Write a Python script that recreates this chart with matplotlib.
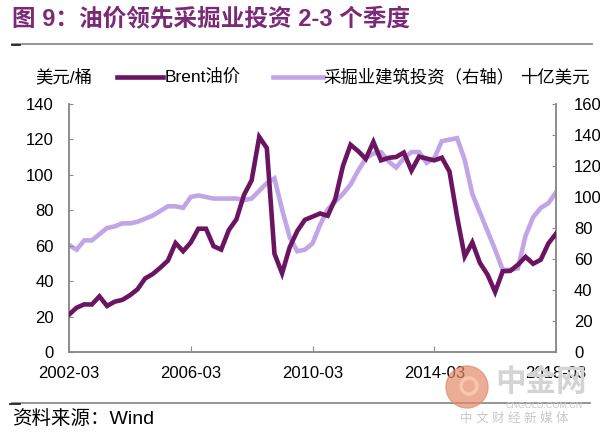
import matplotlib
matplotlib.use('Agg')
import matplotlib.pyplot as plt
from matplotlib.lines import Line2D
from matplotlib.patches import Ellipse
import numpy as np

plt.rcParams['font.family'] = ['Liberation Sans', 'Noto Sans CJK SC']

# quarterly, 2002-03 .. 2018-03
brent = [21.1, 25.0, 26.9, 26.8, 31.4, 26.0, 28.4, 29.4, 32.0, 35.4, 41.5, 44.0,
         47.6, 51.6, 61.5, 56.9, 61.8, 69.6, 69.6, 59.7, 57.8, 68.8, 74.9, 88.7,
         96.9, 121.4, 115.1, 55.5, 44.4, 59.1, 68.3, 74.6, 76.4, 78.2, 76.9, 86.5,
         105.0, 117.0, 113.4, 109.0, 118.6, 108.2, 109.6, 110.1, 112.6, 102.4, 110.3, 109.2,
         108.2, 109.7, 101.9, 76.4, 53.9, 61.9, 50.3, 43.7, 33.9, 45.6, 45.8, 49.3,
         53.7, 49.8, 52.1, 61.3, 66.8]
invest = [69, 66, 72, 72, 76, 80, 81, 83, 83, 84, 86, 88,
          91, 94, 94, 93, 100, 101, 100, 99, 99, 99, 99, 98,
          99, 104, 109, 112, 92, 74, 65, 66, 70, 82, 92, 97,
          102, 108, 117, 125, 128, 129, 123, 119, 125, 129, 129, 122,
          125, 136, 137, 138, 124, 102, 90, 78, 66, 53, 53, 54,
          75, 87, 93, 96, 103]
tick_pos = [0, 16, 32, 48, 64]
tick_labels = ['2002-03', '2006-03', '2010-03', '2014-03', '2018-03']

c_brent = '#6b1562'
c_inv = '#c2a5e6'
c_axis = '#8a8a8a'

W, H = 600, 438
fig = plt.figure(figsize=(6, 4.38), dpi=100)

def fx(px):
    return px / W

def fy(py):
    return 1 - py / H

ax = fig.add_axes([fx(69), fy(352), fx(556) - fx(69), fy(104) - fy(352)])
ax2 = ax.twinx()

x = np.arange(len(brent))
ax2.plot(x, invest, color=c_inv, lw=3.3, solid_joinstyle='miter', zorder=2)
ax.plot(x, brent, color=c_brent, lw=3.3, solid_joinstyle='miter', zorder=3)
ax.set_zorder(ax2.get_zorder() + 1)
ax.patch.set_visible(False)

ax.set_xlim(0, 64)
ax.set_ylim(0, 140)
ax2.set_ylim(0, 160)
ax.set_yticks(range(0, 141, 20))
ax2.set_yticks(range(0, 161, 20))
ax.set_xticks(tick_pos)
ax.set_xticklabels(tick_labels)

for a in (ax, ax2):
    for s in a.spines.values():
        s.set_color(c_axis)
        s.set_linewidth(1.1)
    a.spines['top'].set_visible(False)
ax.tick_params(axis='y', direction='in', length=3, color=c_axis, labelsize=12, pad=11)
ax.tick_params(axis='x', direction='in', length=4, color=c_axis, labelsize=12, pad=10)
ax2.tick_params(axis='y', direction='in', length=3, color=c_axis, labelsize=12, pad=13)

# title and rules
fig.text(fx(12), fy(20), '图 9：油价领先采掘业投资 2-3 个季度', fontsize=17,
         fontweight='bold', color='#7b2a78', va='center', ha='left')
fig.add_artist(Line2D([fx(12), fx(592)], [fy(43.5), fy(43.5)], color='#8c8c8c', lw=1.3))
fig.add_artist(Line2D([fx(12), fx(20)], [fy(44.5), fy(44.5)], color='#222222', lw=1.3))
fig.add_artist(Line2D([fx(12), fx(590)], [fy(403), fy(403)], color='#8c8c8c', lw=1.3))
fig.add_artist(Line2D([fx(10), fx(20)], [fy(403.5), fy(403.5)], color='#222222', lw=1.3))

# legend row
ly = fy(77)
fig.text(fx(35), ly, '美元/桶', fontsize=12.5, va='center', ha='left')
fig.add_artist(Line2D([fx(117), fx(163)], [ly, ly], color=c_brent, lw=3.3))
fig.text(fx(165), ly, 'Brent油价', fontsize=12.5, va='center', ha='left')
fig.add_artist(Line2D([fx(273), fx(323)], [ly, ly], color=c_inv, lw=3.3))
fig.text(fx(323), ly, '采掘业建筑投资（右轴）', fontsize=12.5, va='center', ha='left')
fig.text(fx(520), ly, '十亿美元', fontsize=12.5, va='center', ha='left')

# source
fig.text(fx(12), fy(419), '资料来源：Wind', fontsize=14, va='center', ha='left')

# watermark
fig.add_artist(Ellipse((fx(467), fy(387)), 42 / W, 42 / H, transform=fig.transFigure,
                       color='#e58a6a', alpha=0.7, zorder=5))
fig.add_artist(Ellipse((fx(469), fy(386)), 16 / W, 16 / H, transform=fig.transFigure,
                       facecolor='none', edgecolor='#f6c7a8', lw=2.5, zorder=5))
fig.text(fx(541), fy(383), '中金网', fontsize=22, color='#d4d4d4', fontweight='bold',
         va='center', ha='center', zorder=6)
fig.text(fx(544), fy(405), 'CNGOLD.COM.CN', fontsize=6.5, color='#c8c8c8',
         va='center', ha='center', zorder=6)
fig.text(fx(514), fy(419), '中 文 财 经 新 媒 体', fontsize=9, color='#c8c8c8',
         va='center', ha='center', zorder=6)

fig.savefig('out.png', dpi=100)
